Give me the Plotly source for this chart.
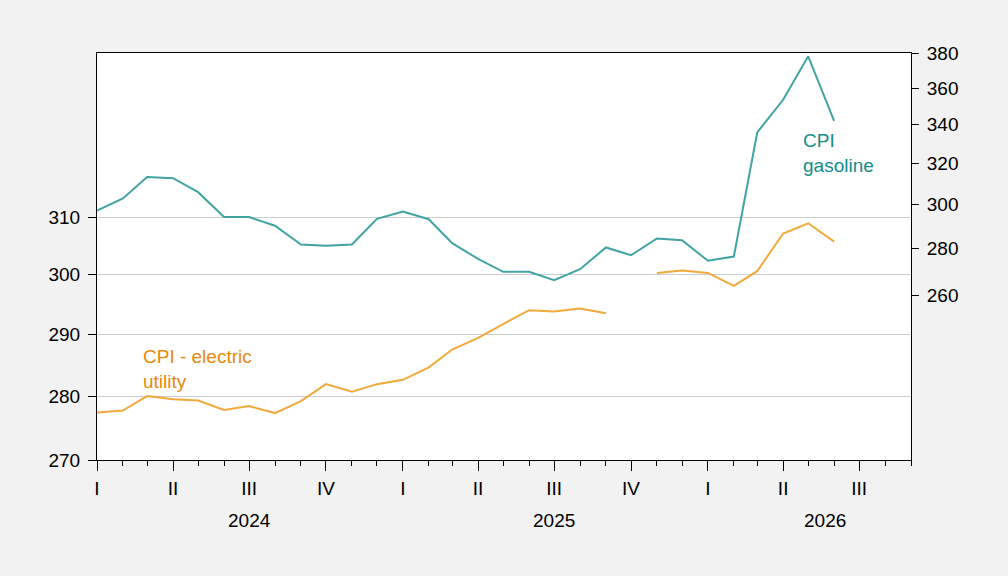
import plotly.graph_objects as go
import math

# ---- data ----
months = [f"{y}-{m:02d}-01" for y in (2024, 2025, 2026) for m in range(1, 13)][:30]  # Jan 2024 .. Jun 2026

cpi_gasoline = [297.1, 302.8, 313.1, 312.6, 305.8, 294.1, 294.1, 290.1, 281.7, 281.2, 281.7, 293.3,
                296.7, 293.1, 282.3, 275.4, 269.9, 269.9, 266.4, 271.0, 280.4, 277.0, 284.4, 283.6,
                274.6, 276.4, 335.8, 353.5, 378.4, 342.0]

cpi_electric = [277.4, 277.7, 280.0, 279.5, 279.3, 277.8, 278.4, 277.3, 279.2, 281.9, 280.7, 281.9,
                282.6, 284.6, 287.5, 289.4, 291.7, 294.0, 293.8, 294.3, 293.5, None, 300.3, 300.7,
                300.3, 298.1, 300.6, 307.1, 308.9, 305.7]

quarter_ticks = ["2024-01-01", "2024-04-01", "2024-07-01", "2024-10-01",
                 "2025-01-01", "2025-04-01", "2025-07-01", "2025-10-01",
                 "2026-01-01", "2026-04-01", "2026-07-01"]
quarter_labels = ["I", "II", "III", "IV", "I", "II", "III", "IV", "I", "II", "III"]
month_ticks = [f"{y}-{m:02d}-01" for y in (2024, 2025, 2026) for m in range(1, 13)][:33]

left_ticks = [270, 280, 290, 300, 310]
right_ticks = [260, 280, 300, 320, 340, 360, 380]

years = ["2024", "2025", "2026"]
year_pos = ["2024-07-01", "2025-07-01", "2026-05-21"]

# ---- styles ----
ORANGE_LINE = "#F2A93B"
ORANGE_TEXT = "#E8890C"
TEAL_LINE = "#42A3A3"
TEAL_TEXT = "#138C8C"
FONT = "Arial, Liberation Sans, sans-serif"
FS = 19

fig = go.Figure()
fig.add_trace(go.Scatter(x=months, y=cpi_electric, mode="lines", yaxis="y",
                         line=dict(color=ORANGE_LINE, width=2), connectgaps=False,
                         showlegend=False, hoverinfo="skip"))
fig.add_trace(go.Scatter(x=months, y=cpi_gasoline, mode="lines", yaxis="y2",
                         line=dict(color=TEAL_LINE, width=2),
                         showlegend=False, hoverinfo="skip"))

fig.update_layout(
    width=1008, height=576,
    margin=dict(l=97, r=97, t=53, b=116),
    paper_bgcolor="#F2F2F2", plot_bgcolor="white",
    font=dict(family=FONT, size=FS, color="black"),
    xaxis=dict(
        type="date", range=["2024-01-01", "2026-09-01"],
        tickmode="array", tickvals=quarter_ticks, ticktext=quarter_labels,
        ticks="outside", ticklen=10, tickcolor="black", tickwidth=1,
        showline=True, linecolor="black", linewidth=1, mirror=True,
        showgrid=False, zeroline=False,
        tickfont=dict(size=FS, color="black"), ticklabelstandoff=1,
        minor=dict(tickmode="array", tickvals=month_ticks, ticks="outside",
                   ticklen=5, tickcolor="black", tickwidth=1, showgrid=False),
    ),
    yaxis=dict(
        type="log", range=[math.log10(270), math.log10(340.3)],
        tickmode="array", tickvals=left_ticks, ticktext=[str(v) for v in left_ticks],
        ticks="outside", ticklen=8, tickcolor="black",
        showline=True, linecolor="black", linewidth=1,
        showgrid=True, gridcolor="#CCCCCC", gridwidth=1, zeroline=False,
        tickfont=dict(size=FS, color="black"), ticklabelstandoff=4,
    ),
    yaxis2=dict(
        type="log", range=[math.log10(200.9), math.log10(380.4)],
        overlaying="y", side="right", anchor="x",
        tickmode="array", tickvals=right_ticks, ticktext=[str(v) for v in right_ticks],
        ticks="outside", ticklen=7, tickcolor="black",
        showline=True, linecolor="black", linewidth=1,
        showgrid=False, zeroline=False,
        tickfont=dict(size=FS, color="black"), ticklabelstandoff=4,
    ),
)

annotations = []
for yr, pos in zip(years, year_pos):
    annotations.append(dict(x=pos, y=-0.1475, xref="x", yref="paper", text=yr,
                            showarrow=False, xanchor="center", yanchor="middle",
                            font=dict(size=FS, color="black", family=FONT)))
annotations.append(dict(x=0.0536, y=0.2231, xref="paper", yref="paper",
                        text="CPI - electric<br>utility", align="left",
                        showarrow=False, xanchor="left", yanchor="middle",
                        font=dict(size=FS, color=ORANGE_TEXT, family=FONT)))
annotations.append(dict(x=0.8645, y=0.7533, xref="paper", yref="paper",
                        text="CPI<br>gasoline", align="left",
                        showarrow=False, xanchor="left", yanchor="middle",
                        font=dict(size=FS, color=TEAL_TEXT, family=FONT)))
fig.update_layout(annotations=annotations)

fig.write_html("out.html",
               config={"displayModeBar": False},
               post_script="document.body.style.margin='0';document.body.style.padding='0';")
